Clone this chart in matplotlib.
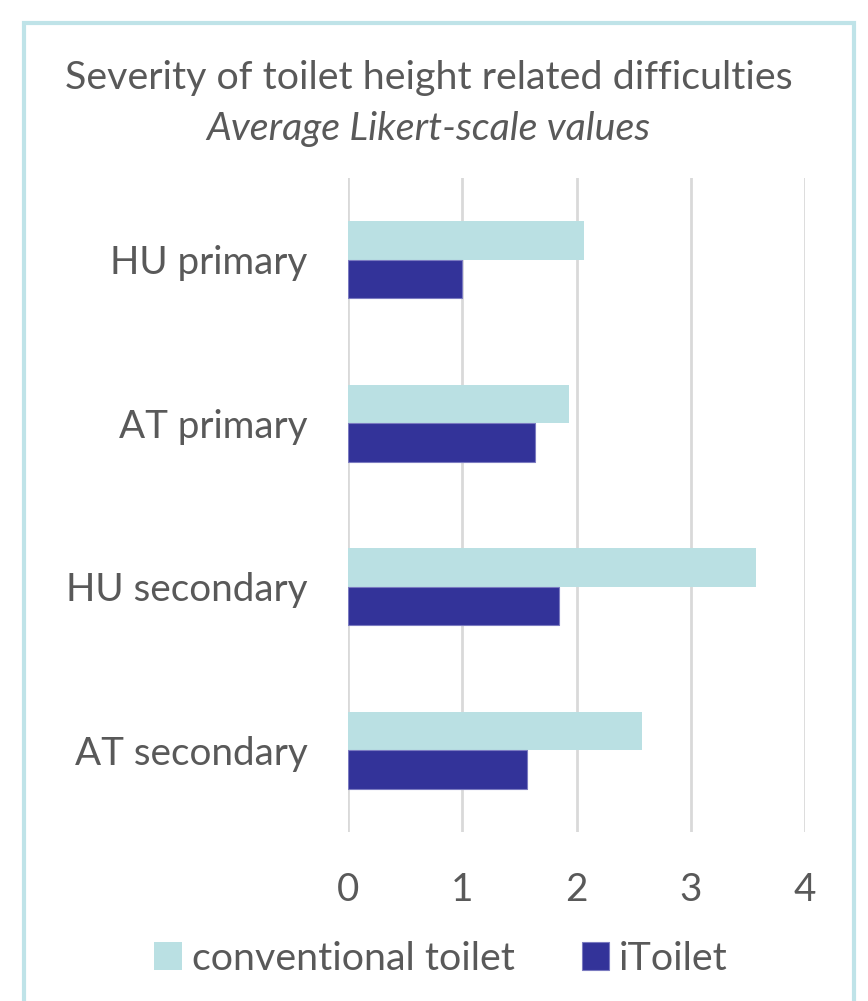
import numpy as np
import matplotlib.pyplot as plt
from matplotlib.patches import Rectangle

# Данные
categories = ['HU primary', 'AT primary', 'HU secondary', 'AT secondary']
conventional = [2.07, 1.93, 3.57, 2.57]
itoilet = [1.0, 1.64, 1.85, 1.57]
ticks = [0, 1, 2, 3, 4]

plt.rcParams['font.family'] = ['Lato', 'DejaVu Sans']
txt = '#595959'

fig = plt.figure(figsize=(8.68, 10.01), dpi=100)
ax = fig.add_axes([348/868, 1 - 832/1001, (805-348)/868, (832-178)/1001])

y = np.arange(len(categories))
h = 0.235
ax.barh(y - h/2, conventional, height=h, color='#bae0e3', label='conventional toilet')
ax.barh(y + h/2, itoilet, height=h, color='#333399', edgecolor='#7b7bc0', linewidth=0.8,
        label='iToilet')

ax.set_ylim(3.5, -0.5)
ax.set_xlim(0, 4)
ax.set_xticks(ticks)
ax.set_yticks(y)
ax.set_yticklabels(categories)
ax.tick_params(length=0, labelsize=27.8, colors=txt)
ax.tick_params(axis='y', pad=29)
ax.tick_params(axis='x', pad=29)
ax.grid(axis='x', color='#d9d9d9', linewidth=2)
ax.set_axisbelow(True)
for s in ax.spines.values():
    s.set_visible(False)

fig.text(0.4935, 1 - 78/1001, 'Severity of toilet height related difficulties',
         ha='center', va='center', fontsize=28.4, color=txt)
fig.text(0.4935, 1 - 129/1001, 'Average Likert-scale values',
         ha='center', va='center', fontsize=28.4, color=txt, style='italic')

fig.legend(loc='center', bbox_to_anchor=(0.508, 1 - 959/1001), ncol=2, frameon=False,
           fontsize=28.4, labelcolor=txt, handlelength=0.7, handleheight=0.7,
           handletextpad=0.25, columnspacing=1.7)

# рамка
fig.patches.append(Rectangle((24/868, -0.02), (854-24)/868, 1.02 - 23/1001,
                             transform=fig.transFigure, fill=False,
                             edgecolor='#bfe3e8', linewidth=3))

fig.savefig('out.png', dpi=100)
